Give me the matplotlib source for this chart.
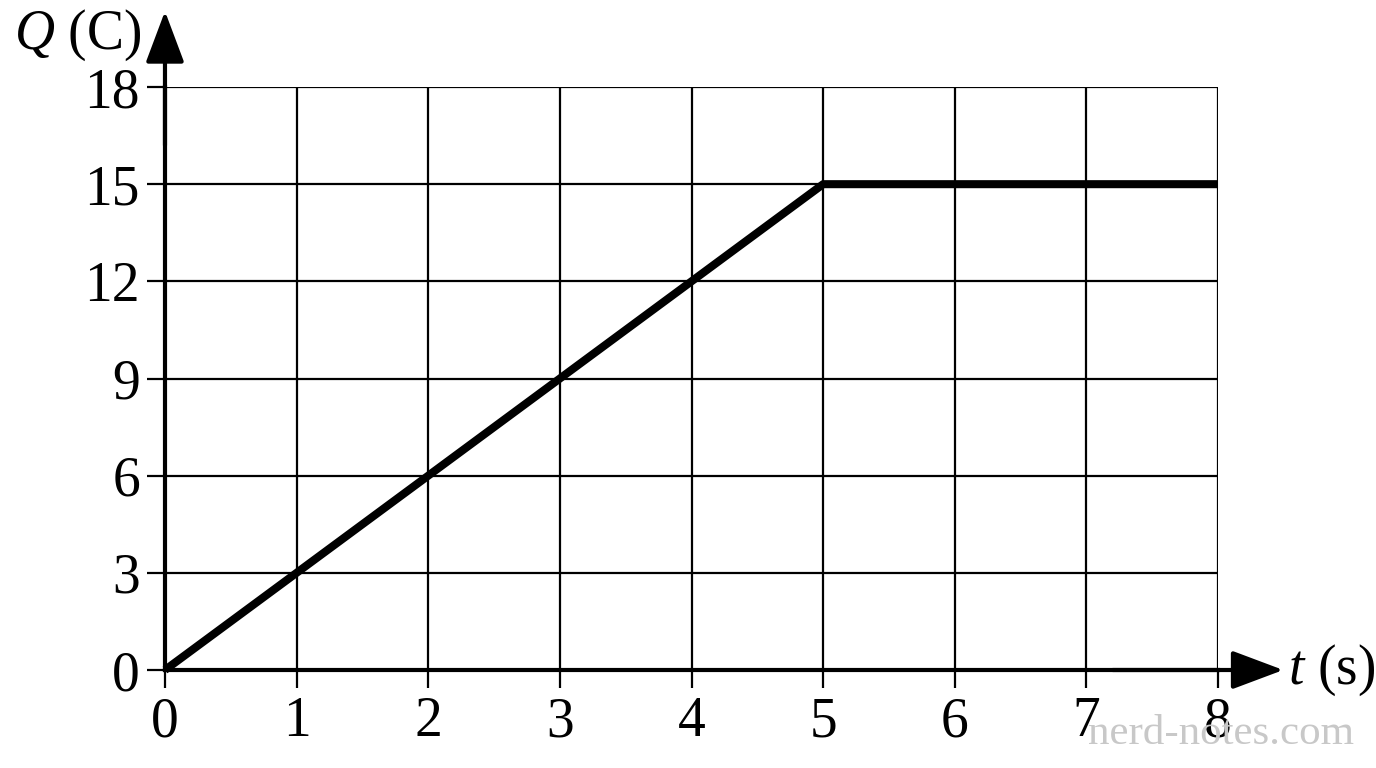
import matplotlib
matplotlib.use("Agg")
import matplotlib.pyplot as plt

# charge vs time
t_vals = [0, 5, 8]
q_vals = [0, 15, 15]
x_ticks = [0, 1, 2, 3, 4, 5, 6, 7, 8]
y_ticks = [0, 3, 6, 9, 12, 15, 18]

plt.rcParams['font.family'] = ['Liberation Serif', 'DejaVu Serif']
plt.rcParams['mathtext.fontset'] = 'custom'
plt.rcParams['mathtext.rm'] = 'Liberation Serif'
plt.rcParams['mathtext.it'] = 'Liberation Serif:italic'

fig = plt.figure(figsize=(13.76, 7.68), dpi=100)
ax = fig.add_axes([0.1199, 0.1276, 0.7653, 0.7591])

ax.plot(t_vals, q_vals, color='black', lw=5.8, solid_capstyle='butt', zorder=5, clip_on=False)

ax.set_xlim(0, 8)
ax.set_ylim(0, 18)
ax.set_xticks(x_ticks)
ax.set_yticks(y_ticks)
ax.grid(True, color='black', lw=1.6)
ax.set_axisbelow(True)

for s in ['top', 'right']:
    ax.spines[s].set_visible(False)
for s in ['left', 'bottom']:
    ax.spines[s].set_linewidth(3)
    ax.spines[s].set_zorder(6)

ax.tick_params(direction='out', length=13, width=1.6, labelsize=40)
ax.tick_params(axis='x', pad=6)
ax.tick_params(axis='y', pad=5)

# axis arrows
ax.annotate('', xy=(1.062, 0), xytext=(0.9, 0), xycoords='axes fraction',
            arrowprops=dict(arrowstyle='-|>,head_length=1.6,head_width=0.6',
                            mutation_scale=20, lw=3, color='black',
                            shrinkA=0, shrinkB=0))
ax.annotate('', xy=(0, 1.13), xytext=(0, 0.9), xycoords='axes fraction',
            arrowprops=dict(arrowstyle='-|>,head_length=1.6,head_width=0.6',
                            mutation_scale=20, lw=3, color='black',
                            shrinkA=0, shrinkB=0))

ax.text(-0.083, 1.089, '$Q$ (C)', transform=ax.transAxes, fontsize=40,
        ha='center', va='center')
ax.text(1.108, 0.0, '$t$ (s)', transform=ax.transAxes, fontsize=40,
        ha='center', va='center')

fig.text(0.887, 0.045, 'nerd-notes.com', fontsize=31, color='#c8c8c8',
         ha='center', va='center')

fig.savefig('out.png', dpi=100)
